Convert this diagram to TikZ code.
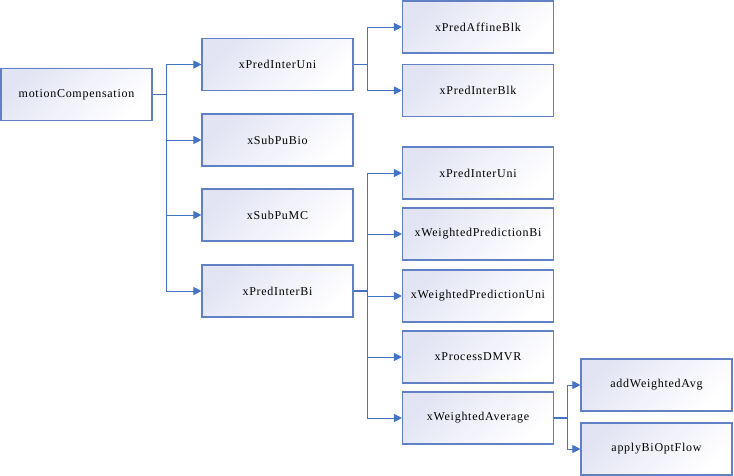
\documentclass[tikz,border=0pt]{standalone}
\usepackage{fontspec}
\setmainfont[LetterSpace=6]{Liberation Serif}
\usetikzlibrary{arrows.meta}

\definecolor{boxline}{RGB}{98,128,196}
\definecolor{boxfill}{RGB}{226,228,244}
\definecolor{linkcol}{RGB}{68,114,196}

\tikzset{
  box/.style={draw=boxline,line width=1.1pt,minimum width=151pt,minimum height=52pt,
    inner sep=0pt,top color=boxfill,bottom color=white,shading angle=45,
    font=\fontsize{12}{14}\selectfont},
  link/.style={draw=linkcol,line width=0.9pt,-{Triangle[length=8pt,width=8pt]}},
  stub/.style={draw=linkcol,line width=1.8pt}
}

\begin{document}
\begin{tikzpicture}[x=1pt,y=-1pt]
      \useasboundingbox (0,0) rectangle (734,476);

      %%%%%%%%%%%%%%%%%%%%%%%%%%%%%%%%%%%%%%%%%%%%%%%%%%%%%%%%%%%%%%%%%%%%%%%%%%%
      %%%%  Boxes
      \node[box] (mc) at (76.5,94.5) {motionCompensation};

      \node[box] (uni) at (277.5,64.5) {xPredInterUni};
      \node[box] (bio) at (277.5,140) {xSubPuBio};
      \node[box] (submc) at (277.5,215) {xSubPuMC};
      \node[box] (bi) at (277.5,291) {xPredInterBi};

      \node[box] (affine) at (478,27) {xPredAffineBlk};
      \node[box] (blk) at (478,90.5) {xPredInterBlk};

      \node[box] (unib) at (478,173) {xPredInterUni};
      \node[box] (wpbi) at (478,234) {xWeightedPredictionBi};
      \node[box] (wpuni) at (478,296) {xWeightedPredictionUni};
      \node[box] (dmvr) at (478,357) {xProcessDMVR};
      \node[box] (wavg) at (478,418) {xWeightedAverage};

      \node[box] (addavg) at (656.5,385) {addWeightedAvg};
      \node[box] (bdof) at (656.5,449) {applyBiOptFlow};

      %%%%%%%%%%%%%%%%%%%%%%%%%%%%%%%%%%%%%%%%%%%%%%%%%%%%%%%%%%%%%%%%%%%%%%%%%%%
      %%%%  Links
      \coordinate (mcbus) at (166,94.5);
      \draw[stub] (mc.east) -- (mcbus);
      \foreach \c in {uni,bio,submc,bi}
        {\draw[link] (mcbus) |- (\c.west);};

      \coordinate (unibus) at (367,64.5);
      \draw[stub] (uni.east) -- (unibus);
      \foreach \c in {affine,blk}
        {\draw[link] (unibus) |- (\c.west);};

      \coordinate (bibus) at (367,291);
      \draw[stub] (bi.east) -- (bibus);
      \foreach \c in {unib,wpbi,wpuni,dmvr,wavg}
        {\draw[link] (bibus) |- (\c.west);};

      \coordinate (wavgbus) at (567,418);
      \draw[stub] (wavg.east) -- (wavgbus);
      \foreach \c in {addavg,bdof}
        {\draw[link] (wavgbus) |- (\c.west);};
    \end{tikzpicture}
\end{document}
